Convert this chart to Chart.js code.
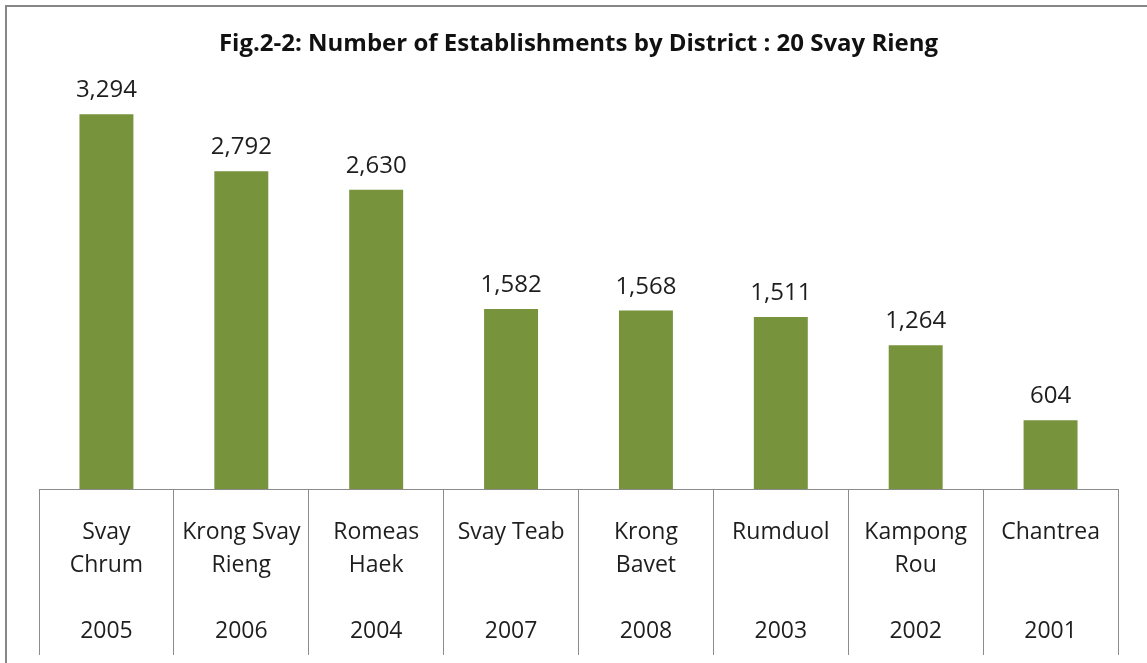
<!DOCTYPE html>
<html>
<head>
<meta charset="utf-8">
<script src="https://cdn.jsdelivr.net/npm/chart.js@4/dist/chart.umd.min.js"></script>
<style>
  html, body { margin: 0; padding: 0; background: #fff; }
  #wrap { position: relative; width: 1147px; height: 663px; }
  #frame { position: absolute; left: 5px; top: 5px; right: 0; bottom: 0;
           border-left: 2px solid #878787; border-top: 2px solid #878787; pointer-events: none; }
</style>
</head>
<body>
<div id="wrap">
  <canvas id="chart" width="1147" height="663"></canvas>
  <div id="frame"></div>
</div>
<script>
const titleText = 'Fig.2-2: Number of Establishments by District : 20 Svay Rieng';
const districts = [
    ['Svay', 'Chrum'],
    ['Krong Svay', 'Rieng'],
    ['Romeas', 'Haek'],
    ['Svay Teab'],
    ['Krong', 'Bavet'],
    ['Rumduol'],
    ['Kampong', 'Rou'],
    ['Chantrea']
];
const codes = ['2005', '2006', '2004', '2007', '2008', '2003', '2002', '2001'];
const establishments = [3294, 2792, 2630, 1582, 1568, 1511, 1264, 604];

const textFont = '"Open Sans", "DejaVu Sans", sans-serif';

// name lines, then blank lines so the code sits on the 4th row
const labels = districts.map((name, i) => {
    const lines = name.slice();
    while (lines.length < 3) lines.push('');
    lines.push(codes[i]);
    return lines;
});

// value labels above each bar
const valueLabels = {
    id: 'valueLabels',
    afterDatasetsDraw(chart) {
        const ctx = chart.ctx;
        const meta = chart.getDatasetMeta(0);
        ctx.save();
        ctx.font = '24px ' + textFont;
        ctx.fillStyle = '#1e1e1e';
        ctx.textAlign = 'center';
        ctx.textBaseline = 'alphabetic';
        meta.data.forEach((bar, i) => {
            ctx.fillText(establishments[i].toLocaleString('en-US'), bar.x, bar.y - 17);
        });
        ctx.restore();
    }
};

const ctx = document.getElementById('chart').getContext('2d');
new Chart(ctx, {
    type: 'bar',
    data: {
        labels: labels,
        datasets: [{
            data: establishments,
            backgroundColor: '#77933C',
            borderWidth: 0,
            categoryPercentage: 1,
            barPercentage: 0.4
        }]
    },
    options: {
        responsive: false,
        animation: false,
        events: [],
        layout: { padding: { left: 39, right: 29, top: 0, bottom: 8 } },
        plugins: {
            legend: { display: false },
            tooltip: { enabled: false },
            title: {
                display: true,
                text: titleText,
                color: '#111',
                font: { family: textFont, size: 24, weight: 'bold', lineHeight: 1.2 },
                padding: { top: 30, bottom: 32 }
            }
        },
        scales: {
            y: {
                display: false,
                min: 0,
                max: 3500
            },
            x: {
                grid: {
                    display: true,
                    offset: true,
                    drawOnChartArea: false,
                    drawTicks: true,
                    tickLength: 166,
                    color: '#8c8c8c',
                    lineWidth: 1
                },
                border: { display: true, color: '#8c8c8c', width: 1 },
                ticks: {
                    autoSkip: false,
                    maxRotation: 0,
                    minRotation: 0,
                    padding: -139,
                    color: '#1e1e1e',
                    font: { family: textFont, size: 23, lineHeight: '33px' }
                },
                afterFit(scale) { scale.height = 166; }
            }
        }
    },
    plugins: [valueLabels]
});
</script>
</body>
</html>
